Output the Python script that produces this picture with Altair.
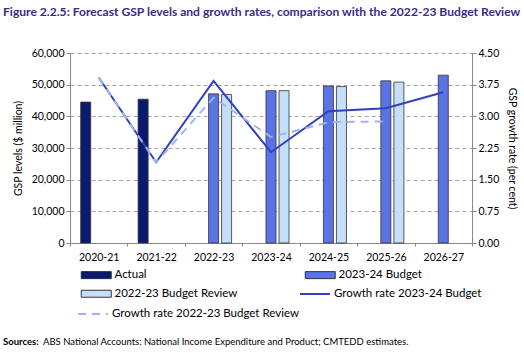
import altair as alt
import pandas as pd

years = ["2020-21", "2021-22", "2022-23", "2023-24", "2024-25", "2025-26", "2026-27"]
actual = [44500, 45400, None, None, None, None, None]
budget_2324 = [None, None, 47100, 48100, 49600, 51200, 53000]
review_2223 = [None, None, 46900, 48100, 49400, 50800, None]
growth_2324 = [3.92, 1.91, 3.84, 2.15, 3.12, 3.19, 3.57]
growth_2223 = [3.92, 1.91, 3.44, 2.51, 2.86, 2.88, None]
rate_ticks = [0, 0.75, 1.5, 2.25, 3.0, 3.75, 4.5]

bar_series = ["Actual", "2023-24 Budget", "2022-23 Budget Review"]
bar_colors = {"Actual": "#0a1a6e", "2023-24 Budget": "#5a74e6", "2022-23 Budget Review": "#c5defa"}
legend_order = ["Actual", "2022-23 Budget Review", "2023-24 Budget"]

rows = []
for s, vals in zip(bar_series, [actual, budget_2324, review_2223]):
    for y, v in zip(years, vals):
        if v is not None:
            rows.append({"year": y, "series": s, "value": v})
bars_df = pd.DataFrame(rows)

g1 = pd.DataFrame({"year": years, "rate": growth_2324, "series": "Growth rate 2023-24 Budget"})
g2 = pd.DataFrame({"year": years, "rate": growth_2223, "series": "Growth rate 2022-23 Budget Review"}).dropna()

FONT = "Lato"
W, H = 402, 190
LBL = 11.5

xscale = alt.Scale(domain=years, paddingInner=0, paddingOuter=0)
xaxis = alt.Axis(title=None, labelFontSize=10.5, labelColor="#000", tickBand="extent", labelAngle=0,
                 domainColor="#888", tickColor="#888", tickSize=3, labelPadding=6, grid=False)

bars = alt.Chart(bars_df).mark_bar(stroke="#333333", strokeWidth=0.8).encode(
    x=alt.X("year:N", scale=xscale, axis=xaxis, sort=years),
    xOffset=alt.XOffset("series:N", scale=alt.Scale(domain=bar_series, paddingInner=0.23, paddingOuter=0.82)),
    y=alt.Y("value:Q", scale=alt.Scale(domain=[0, 60000], nice=False),
            axis=alt.Axis(title="GSP levels ($ million)", values=list(range(0, 60001, 10000)), format=",.0f",
                          grid=True, gridDash=[4, 3], gridColor="#a6a6a6", domainColor="#888",
                          tickColor="#888", tickSize=4, labelFontSize=10.5, labelColor="#000",
                          labelOverlap=False,
                          titleFontSize=10.5, titleFontWeight="normal", titlePadding=8)),
    fill=alt.Fill("series:N", scale=alt.Scale(domain=legend_order, range=[bar_colors[s] for s in legend_order]),
                  legend=alt.Legend(title=None, orient="none", legendX=20.5, legendY=216, columns=2,
                                    columnPadding=65, rowPadding=6, symbolType="M-3,-0.7H3V0.7H-3Z",
                                    symbolSize=100, symbolStrokeColor="#222", symbolStrokeWidth=0.9,
                                    labelFontSize=LBL, labelOffset=12.5, padding=0, labelLimit=300)),
)

rate_axis = alt.Axis(title="GSP growth rate (per cent)", orient="right",
                     values=rate_ticks, format=".2f", grid=False,
                     labelOverlap=False, tickCount=7,
                     domainColor="#888", tickColor="#888", tickSize=4, labelFontSize=10.5,
                     labelColor="#000", titleFontSize=10.5, titleFontWeight="normal",
                     titlePadding=8)
rate_scale = alt.Scale(domain=[0, 4.5], nice=False)

line1 = alt.Chart(g1).mark_line(strokeWidth=2).encode(
    x=alt.X("year:N", scale=xscale, sort=years),
    y=alt.Y("rate:Q", scale=rate_scale, axis=rate_axis),
    stroke=alt.Stroke("series:N", scale=alt.Scale(range=["#2f41bf"]),
                      legend=alt.Legend(title=None, orient="none", legendX=229, legendY=225,
                                        symbolType="stroke", symbolSize=900, symbolStrokeWidth=2,
                                        labelFontSize=LBL, labelOffset=3, padding=0, labelLimit=300)),
)
line2 = alt.Chart(g2).mark_line(strokeWidth=2, stroke="#9db2f5").encode(
    x=alt.X("year:N", scale=xscale, sort=years),
    y=alt.Y("rate:Q", scale=rate_scale, axis=rate_axis),
    strokeDash=alt.StrokeDash("series:N", scale=alt.Scale(range=[[8, 6]]),
                              legend=alt.Legend(title=None, orient="none", legendX=7, legendY=245,
                                                symbolType="stroke", symbolSize=900, symbolStrokeWidth=2,
                                                symbolStrokeColor="#9db2f5",
                                                labelFontSize=LBL, labelOffset=3, padding=0, labelLimit=300)),
)

src_df = pd.DataFrame({"t": ["Sources:"]})
src_bold = alt.Chart(src_df).mark_text(align="left", baseline="alphabetic", fontSize=9.5,
                                       fontWeight="bold", font=FONT, color="#000").encode(
    text="t:N", x=alt.value(-67), y=alt.value(292))
src_df2 = pd.DataFrame({"t": ["ABS National Accounts: National Income Expenditure and Product; CMTEDD estimates."]})
src_rest = alt.Chart(src_df2).mark_text(align="left", baseline="alphabetic", fontSize=9.5,
                                        font=FONT, color="#000").encode(
    text="t:N", x=alt.value(-27), y=alt.value(292))

chart = alt.layer(bars, alt.layer(line1, line2), src_bold, src_rest).resolve_scale(
    y="independent"
).properties(
    width=W, height=H,
    title=alt.TitleParams("Figure 2.2.5: Forecast GSP levels and growth rates, comparison with the 2022-23 Budget Review",
                          anchor="start", frame="group", dx=-67, dy=-26, fontSize=12.1, fontWeight="bold",
                          color="#3b2b8a", font=FONT),
    autosize=alt.AutoSizeParams(type="none"),
    padding={"left": 70, "top": 53, "right": 52, "bottom": 110},
).configure(font=FONT).configure_view(strokeWidth=0)

chart.save("out.html", embed_options={"renderer": "svg", "actions": False})
